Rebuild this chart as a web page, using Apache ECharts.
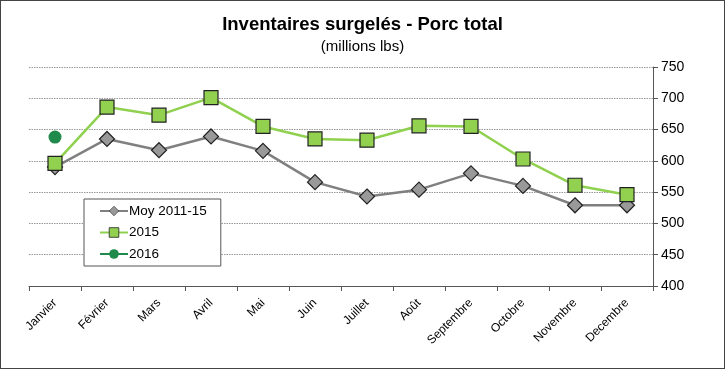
<!DOCTYPE html>
<html><head><meta charset="utf-8">
<script src="https://cdn.jsdelivr.net/npm/echarts@6/dist/echarts.min.js"></script>
<style>html,body{margin:0;padding:0;background:#fff}#c{width:725px;height:369px;box-sizing:border-box;border:1px solid #444}</style>
</head><body><div id="c"></div>
<script>
const categories = ['Janvier','Février','Mars','Avril','Mai','Juin','Juillet','Août','Septembre','Octobre','Novembre','Decembre'];
const moy = [590,635,617,639,616,566,543,554,580,560,529,529];
const y2015 = [596,686,673,701,655,635,633,656,655,603,561,546];
const y2016 = [638,null,null,null,null,null,null,null,null,null,null,null];
const yTicks = [400,450,500,550,600,650,700,750];

const chart = echarts.init(document.getElementById('c'));
chart.setOption({
  animation:false,
  textStyle:{fontFamily:'Liberation Sans, Arial, sans-serif'},
  title:[{text:'Inventaires surgelés - Porc total',left:'center',top:9,textStyle:{fontSize:18.5,fontWeight:'bold',color:'#000'}},
         {text:'(millions lbs)',left:'center',top:33,textStyle:{fontSize:15,fontWeight:'normal',color:'#000'}}],
  grid:{left:28,right:71,top:66,bottom:82},
  legend:{orient:'vertical',left:83,top:198,width:139,padding:[5,14,5,15],itemGap:7.5,
    borderColor:'#555',borderWidth:1,backgroundColor:'#fff',itemWidth:28,itemHeight:12,
    textStyle:{fontSize:13.5,color:'#000',padding:[0,0,0,-4]},
    data:[{name:'Moy 2011-15',itemStyle:{borderWidth:0.6}},{name:'2015',itemStyle:{borderWidth:0.8}},'2016']},
  xAxis:{type:'category',data:categories,boundaryGap:true,
    axisLine:{lineStyle:{color:'#555',width:1}},
    axisTick:{show:true,length:5,lineStyle:{color:'#555'}},
    axisLabel:{rotate:45,fontSize:12,color:'#000',margin:15}},
  yAxis:{type:'value',position:'right',min:yTicks[0],max:yTicks[yTicks.length-1],interval:50,
    axisLine:{show:true,lineStyle:{color:'#555'}},
    axisTick:{show:true,length:5,lineStyle:{color:'#555'}},
    axisLabel:{fontSize:14,color:'#000',margin:8},
    splitLine:{lineStyle:{color:'#999',type:[1.5,1],width:1}}},
  series:[
    {name:'Moy 2011-15',type:'line',data:moy,symbol:'diamond',symbolSize:15,
     lineStyle:{color:'#808080',width:2.5},itemStyle:{color:'#999',borderColor:'#222',borderWidth:1.2}},
    {name:'2015',type:'line',data:y2015,symbol:'rect',symbolSize:14,
     lineStyle:{color:'#8fd14f',width:2.5},itemStyle:{color:'#92d050',borderColor:'#222',borderWidth:1.2}},
    {name:'2016',type:'line',data:y2016,symbol:'circle',symbolSize:13,
     lineStyle:{color:'#1f8a4c',width:2.5},itemStyle:{color:'#1f8a4c',borderWidth:0}}
  ]
});
</script></body></html>
